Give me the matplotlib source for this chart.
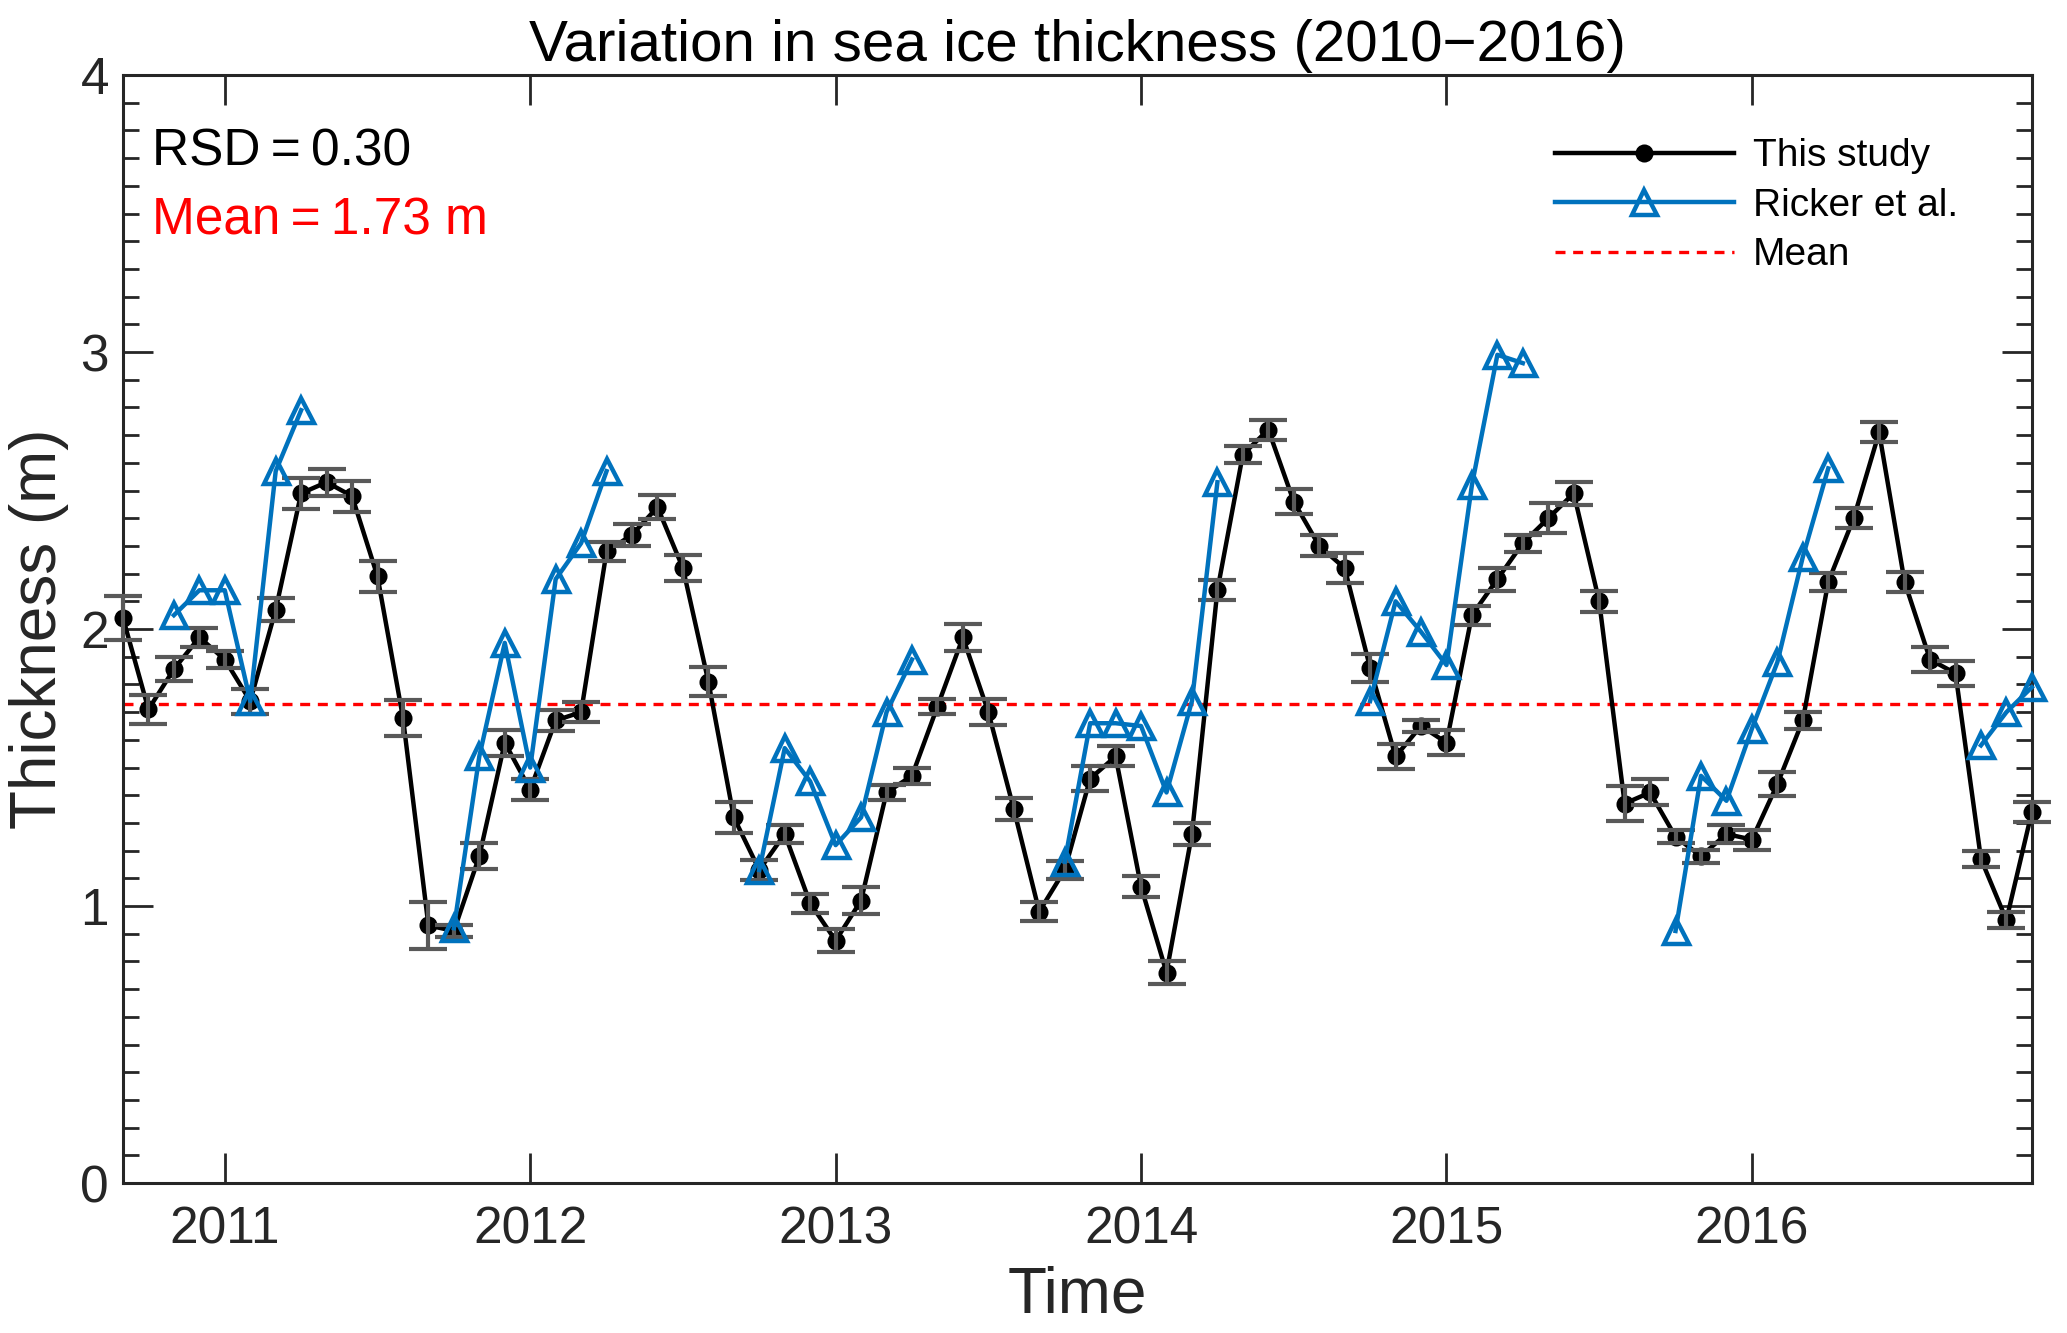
import numpy as np
import matplotlib
matplotlib.use('Agg')
import matplotlib.pyplot as plt
from matplotlib.ticker import MultipleLocator

plt.rcParams['font.family'] = ['Liberation Sans', 'DejaVu Sans']

# monthly data, Sep 2010 .. Dec 2016
start_year, start_month, n_months = 2010, 9, 76

thickness = [2.04, 1.71, 1.855, 1.97,
             1.89, 1.74, 2.07, 2.49, 2.53, 2.48, 2.19, 1.68, 0.93, 0.91, 1.18, 1.59,
             1.42, 1.67, 1.70, 2.28, 2.34, 2.44, 2.22, 1.81, 1.32, 1.13, 1.26, 1.01,
             0.875, 1.02, 1.41, 1.47, 1.72, 1.97, 1.70, 1.35, 0.98, 1.13, 1.46, 1.54,
             1.07, 0.76, 1.26, 2.14, 2.63, 2.72, 2.46, 2.30, 2.22, 1.86, 1.54, 1.65,
             1.59, 2.05, 2.18, 2.31, 2.40, 2.49, 2.10, 1.37, 1.41, 1.25, 1.18, 1.26,
             1.24, 1.44, 1.67, 2.17, 2.40, 2.71, 2.17, 1.89, 1.84, 1.17, 0.95, 1.34]

thickness_err = [0.078, 0.052, 0.043, 0.034,
                 0.031, 0.045, 0.041, 0.057, 0.049, 0.056, 0.056, 0.065, 0.084, 0.023, 0.047, 0.047,
                 0.038, 0.039, 0.036, 0.036, 0.041, 0.044, 0.046, 0.052, 0.057, 0.037, 0.031, 0.035,
                 0.041, 0.047, 0.028, 0.028, 0.028, 0.049, 0.047, 0.039, 0.033, 0.031, 0.045, 0.036,
                 0.039, 0.040, 0.038, 0.036, 0.032, 0.036, 0.045, 0.038, 0.054, 0.051, 0.044, 0.021,
                 0.046, 0.034, 0.041, 0.031, 0.054, 0.041, 0.038, 0.064, 0.047, 0.024, 0.024, 0.031,
                 0.036, 0.043, 0.031, 0.034, 0.036, 0.036, 0.036, 0.046, 0.044, 0.029, 0.029, 0.035]

nan = np.nan
ricker = [nan, nan, 2.05, 2.14,
          2.14, 1.74, 2.57, 2.79, nan, nan, nan, nan, nan, 0.92, 1.54, 1.95,
          1.50, 2.18, 2.31, 2.57, nan, nan, nan, nan, nan, 1.13, 1.57, 1.45,
          1.22, 1.32, 1.70, 1.89, nan, nan, nan, nan, nan, 1.16, 1.66, 1.66,
          1.65, 1.41, 1.74, 2.53, nan, nan, nan, nan, nan, 1.74, 2.10, 1.99,
          1.87, 2.52, 2.99, 2.96, nan, nan, nan, nan, nan, 0.91, 1.47, 1.38,
          1.64, 1.88, 2.26, 2.58, nan, nan, nan, nan, nan, 1.58, 1.70, 1.79]

mean_val = 1.73
rsd = 0.30
years = [2011, 2012, 2013, 2014, 2015, 2016]

t = start_year + (start_month - 1 + np.arange(n_months)) / 12.0

axcol = '#262626'
fig = plt.figure(figsize=(10.335, 6.665), dpi=200)
ax = fig.add_axes([0.0595, 0.1125, 0.9235, 0.8312])

l1, = ax.plot(t, thickness, '-o', color='k', lw=1.6, ms=5.5, zorder=3, clip_on=False, label='This study')
eb = ax.errorbar(t, thickness, yerr=thickness_err, fmt='none', ecolor='#595959',
                 elinewidth=1.5, capsize=6.8, capthick=1.5, zorder=4)
for c in eb.lines[1] + eb.lines[2]:
    c.set_clip_on(False)
l2, = ax.plot(t, ricker, '-^', color='#0072BD', lw=1.6, ms=9, mfc='none', mew=1.6,
              zorder=5, clip_on=False, label='Ricker et al.')
l3 = ax.axhline(mean_val, color='r', ls=(0, (3, 2.3)), lw=1.2, zorder=2, label='Mean')

ax.set_xlim(t[0], t[-1])
ax.set_ylim(0, 4)
ax.set_xticks(years)
ax.set_xticklabels([str(y) for y in years])
ax.set_yticks([0, 1, 2, 3, 4])
ax.yaxis.set_minor_locator(MultipleLocator(0.1))

ax.tick_params(axis='x', which='major', direction='in', top=True, length=10.8, width=1,
               labelsize=18.5, pad=8, colors=axcol)
ax.tick_params(axis='y', which='major', direction='in', right=True, length=10.8, width=1,
               labelsize=18.5, pad=5, colors=axcol)
ax.tick_params(axis='y', which='minor', direction='in', right=True, length=5.8, width=1, colors=axcol)
for s in ax.spines.values():
    s.set_linewidth(1.1)
    s.set_color(axcol)

ax.set_title('Variation in sea ice thickness (2010\u22122016)', fontsize=21, pad=5)
ax.set_xlabel('Time', fontsize=23, color=axcol, labelpad=4)
ax.set_ylabel('Thickness (m)', fontsize=23, color=axcol, labelpad=4)

ax.text(0.015, 0.918, 'RSD\u2009=\u2009%.2f' % rsd, transform=ax.transAxes, fontsize=18.5,
        va='baseline', color='k')
ax.text(0.015, 0.856, 'Mean\u2009=\u2009%.2f m' % mean_val, transform=ax.transAxes, fontsize=18.5,
        va='baseline', color='r')

ax.legend(handles=[l1, l2, l3], loc='upper left', bbox_to_anchor=(0.75, 0.943), frameon=False,
          fontsize=14, handlelength=4.6, handletextpad=0.5, labelspacing=0.35,
          borderpad=0, borderaxespad=0)

fig.savefig('out.png', dpi=200)
